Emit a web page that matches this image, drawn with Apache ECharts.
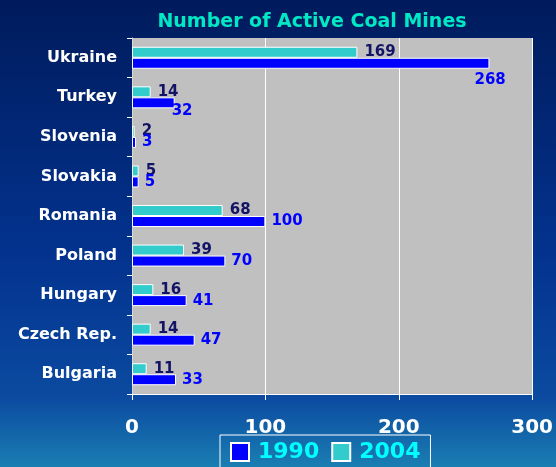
<!DOCTYPE html>
<html>
<head>
<meta charset="utf-8">
<script src="https://cdn.jsdelivr.net/npm/echarts@6/dist/echarts.min.js"></script>
<style>
  html, body { margin: 0; padding: 0; }
  #chart { width: 556px; height: 467px; }
</style>
</head>
<body>
<div id="chart"></div>
<script>
// categories bottom -> top
const countries = ["Bulgaria", "Czech Rep.", "Hungary", "Poland", "Romania", "Slovakia", "Slovenia", "Turkey", "Ukraine"];
const mines1990 = [33, 47, 41, 70, 100, 5, 3, 32, 268];
const mines2004 = [11, 14, 16, 39, 68, 5, 2, 14, 169];
const xTicks = [0, 100, 200, 300];

const font = "'DejaVu Sans', Arial, sans-serif";

// a couple of Excel labels sit below the bar end instead of beside it
const labelNudge = { 7: [-9, 8], 8: [-21, 17] };

const myChart = echarts.init(document.getElementById("chart"));
myChart.setOption({
  backgroundColor: {
    type: "linear", x: 0, y: 0, x2: 0, y2: 1,
    colorStops: [
      { offset: 0, color: "#001b5c" },
      { offset: 0.55, color: "#03338f" },
      { offset: 0.85, color: "#0b4aa0" },
      { offset: 1, color: "#1a7eb2" },
    ],
  },
  title: {
    text: "Number of Active Coal Mines",
    left: 307,
    textAlign: "center",
    top: 8,
    textStyle: { color: "#00e8c4", fontSize: 19, fontWeight: "bold", fontFamily: font },
  },
  legend: {
    data: [
      { name: "1990", icon: "rect" },
      { name: "2004", icon: "rect" },
    ],
    left: 220,
    top: 435,
    padding: [6, 10, 8, 10],
    borderColor: "#ffffff",
    borderWidth: 1,
    itemWidth: 18,
    itemHeight: 18,
    itemGap: 12,
    textStyle: { color: "#00ffff", fontSize: 22, fontWeight: "bold", fontFamily: font, padding: [0, 0, 0, 4] },
  },
  grid: { left: 132, right: 21, top: 38, bottom: 73, containLabel: false,
    show: true, backgroundColor: "#c0c0c0", borderWidth: 0 },
  xAxis: {
    type: "value",
    min: 0,
    max: 300,
    interval: 100,
    axisLine: { show: true, lineStyle: { color: "#ffffff", width: 1 } },
    axisTick: { show: true, length: 6, lineStyle: { color: "#ffffff" } },
    splitLine: { show: true, lineStyle: { color: "#ffffff", width: 1 } },
    axisLabel: {
      color: "#ffffff", fontSize: 20, fontWeight: "bold", fontFamily: font, margin: 24,
      formatter: (v) => (xTicks.includes(v) ? String(v) : ""),
    },
  },
  yAxis: {
    type: "category",
    data: countries,
    axisLine: { show: true, lineStyle: { color: "#d8d8d8" } },
    axisTick: { show: true, length: 5, lineStyle: { color: "#ffffff" } },
    axisLabel: { color: "#ffffff", fontSize: 16, fontWeight: "bold", fontFamily: font, margin: 15 },
  },
  series: [
    {
      name: "2004",
      type: "bar",
      barWidth: 11,
      barGap: "0%",
      itemStyle: { color: "#33cccc", borderColor: "#ffffff", borderWidth: 1 },
      label: {
        show: true, position: "right", distance: 7,
        color: "#141466", fontSize: 15, fontWeight: "bold", fontFamily: font,
      },
      data: mines2004,
    },
    {
      name: "1990",
      type: "bar",
      barWidth: 11,
      itemStyle: { color: "#0000ff", borderColor: "#ffffff", borderWidth: 1 },
      label: {
        show: true, position: "right", distance: 6,
        color: "#0000ff", fontSize: 15, fontWeight: "bold", fontFamily: font,
      },
      data: mines1990.map((v, i) =>
        labelNudge[i] ? { value: v, label: { offset: labelNudge[i] } } : v
      ),
    },
  ],
});
</script>
</body>
</html>
